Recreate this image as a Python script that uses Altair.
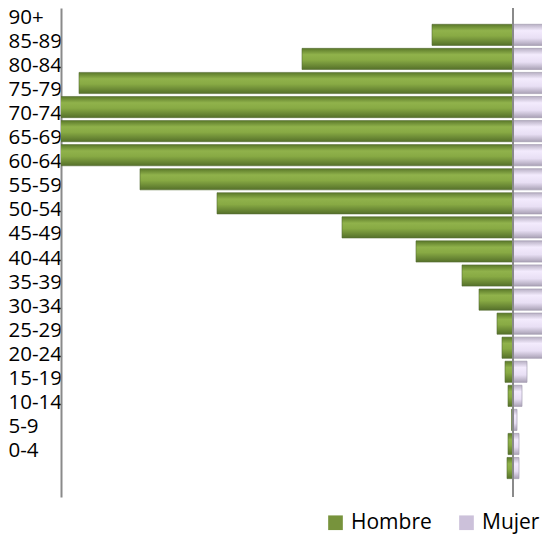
import altair as alt
import pandas as pd

# Age groups, top to bottom
grupos = ["90+", "85-89", "80-84", "75-79", "70-74", "65-69", "60-64", "55-59",
          "50-54", "45-49", "40-44", "35-39", "30-34", "25-29", "20-24", "15-19",
          "10-14", "5-9", "0-4"]
hombre = [81, 211, 434, 470, 520, 500, 373, 296, 171, 97, 51, 34, 16, 11, 8, 5, 1.5, 5, 6]
mujer = [60, 150, 300, 380, 420, 400, 330, 260, 160, 100, 70, 55, 45, 33, 14, 9, 4, 6, 6]
series = ["Hombre", "Mujer"]
series_colors = ["#77933C", "#CCC1DA"]

df = pd.DataFrame({"grupo": grupos, "hombre": hombre, "mujer": mujer})
legend_df = pd.DataFrame({"sexo": series})
zero_df = pd.DataFrame({"v": [0]})

green = {
    "gradient": "linear", "x1": 0, "x2": 0, "y1": 0, "y2": 1,
    "stops": [
        {"offset": 0, "color": "#5a7829"},
        {"offset": 0.3, "color": "#90b24b"},
        {"offset": 0.55, "color": "#88aa44"},
        {"offset": 1, "color": "#55702a"},
    ],
}
purple = {
    "gradient": "linear", "x1": 0, "x2": 0, "y1": 0, "y2": 1,
    "stops": [
        {"offset": 0, "color": "#b8b0c4"},
        {"offset": 0.3, "color": "#f3ebfd"},
        {"offset": 0.65, "color": "#e8dff4"},
        {"offset": 1, "color": "#a9a1b5"},
    ],
}

xscale = alt.Scale(domain=[-452, 29], nice=False, zero=False)
yenc = alt.Y(
    "grupo:N",
    sort=grupos,
    scale=alt.Scale(paddingInner=0.12, paddingOuter=0.72, align=0.47),
    axis=alt.Axis(
        title=None, ticks=False, tickSize=0, labelAlign="left", labelPadding=53,
        labelOffset=-17, labelFont="Open Sans", labelFontSize=20.5,
        labelColor="#000000", domainColor="#8a8a8a", domainWidth=2,
        labelOverlap=False, grid=False,
    ),
)

hombre_bars = alt.Chart(df).transform_calculate(h="-datum.hombre").mark_bar(
    color=green, stroke="#566b34", strokeWidth=0.6, clip=True
).encode(
    x=alt.X("h:Q", scale=xscale, axis=None),
    y=yenc,
)

mujer_bars = alt.Chart(df).mark_bar(
    color=purple, stroke="#a59db1", strokeWidth=0.7, clip=True
).encode(
    x=alt.X("mujer:Q", scale=xscale, axis=None),
    y=yenc,
)

center = alt.Chart(zero_df).mark_rule(color="#8a8a8a", strokeWidth=2).encode(
    x=alt.X("v:Q", scale=xscale, axis=None)
)

legend_layer = alt.Chart(legend_df).mark_square(opacity=0).encode(
    color=alt.Color(
        "sexo:N",
        scale=alt.Scale(domain=series, range=series_colors),
        legend=alt.Legend(
            title=None, orient="none", legendX=264, legendY=504,
            direction="horizontal", symbolType="square", symbolSize=215,
            symbolOpacity=1, symbolStrokeWidth=0, labelFont="Open Sans",
            labelFontSize=21, labelColor="#000000", labelOffset=5,
            columnPadding=24, padding=0,
        ),
    )
)

chart = alt.layer(hombre_bars, mujer_bars, center, legend_layer).properties(
    width=481, height=489,
    autosize=alt.AutoSizeParams(type="none"),
    padding={"left": 53, "top": 0, "right": 0, "bottom": 37},
).configure_view(stroke=None)

chart.save("out.html", embed_options={"renderer": "svg", "actions": False})
